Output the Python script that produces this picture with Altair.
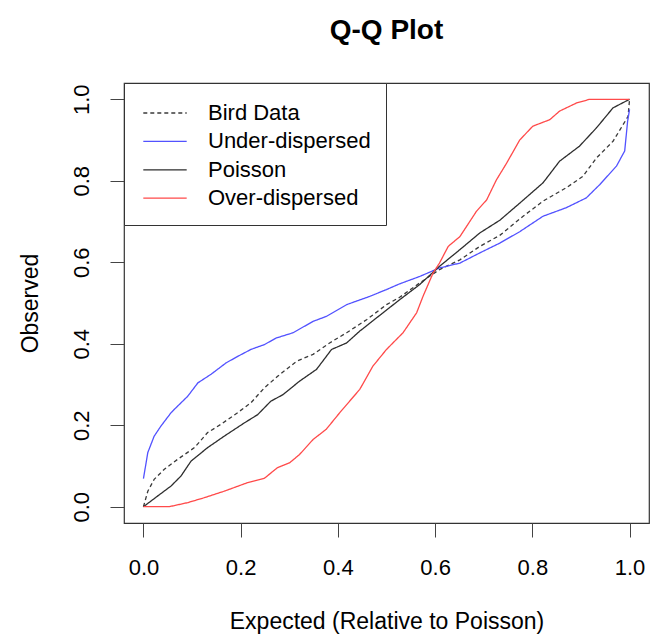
import altair as alt
import pandas as pd

series_names = ["Bird Data", "Under-dispersed", "Poisson", "Over-dispersed"]

bird_x = [0, 0.009, 0.022, 0.043, 0.070, 0.105, 0.132, 0.159, 0.194, 0.221, 0.249, 0.276,
          0.315, 0.349, 0.383, 0.418, 0.459, 0.500, 0.527, 0.568, 0.609, 0.651, 0.692,
          0.733, 0.781, 0.822, 0.870, 0.904, 0.932, 0.966, 0.997, 1.0]
bird_y = [0, 0.038, 0.067, 0.092, 0.116, 0.145, 0.182, 0.202, 0.231, 0.255, 0.292, 0.320,
          0.357, 0.374, 0.402, 0.427, 0.459, 0.496, 0.514, 0.549, 0.582, 0.606, 0.639,
          0.666, 0.713, 0.750, 0.783, 0.811, 0.856, 0.897, 0.958, 1.0]

under_x = [0, 0.009, 0.022, 0.036, 0.057, 0.067, 0.091, 0.112, 0.139, 0.170, 0.194, 0.221,
           0.249, 0.273, 0.308, 0.349, 0.376, 0.418, 0.465, 0.500, 0.527, 0.568, 0.609,
           0.651, 0.692, 0.733, 0.774, 0.822, 0.870, 0.911, 0.939, 0.973, 0.990, 0.996, 1.0]
under_y = [0.069, 0.133, 0.173, 0.198, 0.231, 0.243, 0.271, 0.304, 0.325, 0.353, 0.369, 0.386,
           0.398, 0.414, 0.427, 0.455, 0.467, 0.496, 0.516, 0.533, 0.547, 0.565, 0.586,
           0.598, 0.623, 0.647, 0.675, 0.713, 0.734, 0.758, 0.791, 0.836, 0.873, 0.946, 0.975]

poisson_x = [0, 0.029, 0.057, 0.077, 0.098, 0.132, 0.166, 0.208, 0.235, 0.262, 0.287, 0.321,
             0.356, 0.387, 0.418, 0.445, 0.479, 0.527, 0.568, 0.609, 0.651, 0.692, 0.733,
             0.774, 0.822, 0.856, 0.897, 0.932, 0.966, 1.0]
poisson_y = [0, 0.026, 0.051, 0.075, 0.112, 0.145, 0.173, 0.206, 0.226, 0.259, 0.275, 0.308,
             0.337, 0.386, 0.402, 0.431, 0.463, 0.508, 0.545, 0.590, 0.631, 0.672, 0.703,
             0.745, 0.795, 0.848, 0.885, 0.930, 0.979, 1.0]

over_x = [0, 0.053, 0.091, 0.125, 0.166, 0.214, 0.249, 0.276, 0.301, 0.321, 0.349, 0.376,
          0.404, 0.445, 0.472, 0.500, 0.534, 0.562, 0.575, 0.596, 0.609, 0.627, 0.651, 0.685,
          0.706, 0.726, 0.747, 0.774, 0.801, 0.836, 0.856, 0.891, 0.918, 1.0]
over_y = [0, 0, 0.010, 0.022, 0.038, 0.059, 0.070, 0.096, 0.108, 0.128, 0.165, 0.190,
          0.231, 0.288, 0.345, 0.386, 0.427, 0.476, 0.516, 0.574, 0.598, 0.639, 0.663, 0.725,
          0.753, 0.802, 0.843, 0.900, 0.934, 0.950, 0.971, 0.991, 1.0, 1.0]

tick_values = [0.0, 0.2, 0.4, 0.6, 0.8, 1.0]

rows = []
for name, xs, ys in [("Bird Data", bird_x, bird_y),
                     ("Under-dispersed", under_x, under_y),
                     ("Poisson", poisson_x, poisson_y),
                     ("Over-dispersed", over_x, over_y)]:
    for i, (a, b) in enumerate(zip(xs, ys)):
        rows.append({"series": name, "expected": a, "observed": b, "idx": i})
df = pd.DataFrame(rows)

FONT = "Liberation Sans"

color_scale = alt.Scale(domain=series_names,
                        range=["#3a3a3a", "#5252ff", "#2e2e2e", "#ff4a4a"])
dash_scale = alt.Scale(domain=series_names,
                       range=[[4, 3], [1, 0], [1, 0], [1, 0]])

legend = alt.Legend(
    title=None, orient="none", legendX=0, legendY=0,
    padding=15, fillColor="white", strokeColor="#333333", cornerRadius=0,
    symbolType="M-1.55,0L1.55,0", symbolSize=784, symbolStrokeWidth=1.3,
    symbolOffset=11,
    labelFontSize=22, labelFont=FONT, labelColor="black", labelOffset=28,
    rowPadding=2.4, labelLimit=400,
)

chart = alt.Chart(df).mark_line(strokeWidth=1.3).encode(
    x=alt.X("expected:Q",
            scale=alt.Scale(domain=[-0.04, 1.04], nice=False, zero=False),
            axis=alt.Axis(values=tick_values, format=".1f",
                          title="Expected (Relative to Poisson)",
                          grid=False, domain=False, tickSize=14, tickColor="#444444",
                          labelPadding=20, labelFlush=False, labelOverlap=False,
                          labelFontSize=22, labelFont=FONT, labelColor="black",
                          titleFontSize=23, titleFont=FONT, titleFontWeight="normal",
                          titleColor="black", titleBaseline="alphabetic", titleY=105)),
    y=alt.Y("observed:Q",
            scale=alt.Scale(domain=[-0.04, 1.04], nice=False, zero=False),
            axis=alt.Axis(values=tick_values, format=".1f", title="Observed",
                          grid=False, domain=False, tickSize=14, tickColor="#444444",
                          labelAngle=270, labelAlign="center", labelBaseline="alphabetic",
                          labelPadding=22, labelFlush=False, labelOverlap=False,
                          labelFontSize=22, labelFont=FONT, labelColor="black",
                          titleFontSize=23, titleFont=FONT, titleFontWeight="normal",
                          titleColor="black", titleAngle=270, titleBaseline="alphabetic",
                          titleX=-87, titleY=220)),
    color=alt.Color("series:N", scale=color_scale, sort=series_names, legend=legend),
    strokeDash=alt.StrokeDash("series:N", scale=dash_scale, sort=series_names, legend=legend),
    order=alt.Order("idx:Q"),
).properties(
    width=525, height=440,
    title=alt.TitleParams("Q-Q Plot", fontSize=28, fontWeight="bold", font=FONT,
                          color="black", anchor="middle", frame="group",
                          baseline="alphabetic", offset=16),
    autosize=alt.AutoSizeParams(type="none"),
    padding={"left": 116, "top": 75, "right": 2, "bottom": 111},
).configure_view(stroke="#333333", strokeWidth=1.2)

chart.save("out.html", embed_options={"renderer": "svg", "actions": False})
